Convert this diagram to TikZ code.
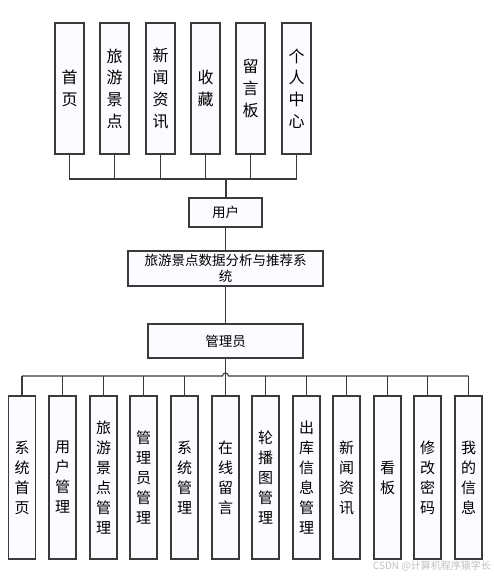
\documentclass[tikz,border=0pt]{standalone}
\usepackage{fontspec}
\newfontfamily\cjk{Noto Sans CJK SC}
\definecolor{lc}{HTML}{3A3A3A}
\definecolor{bf}{HTML}{FAFCFF}
\begin{document}
\begin{tikzpicture}[x=1pt,y=-1pt,
  base/.style={draw=lc,line width=1.1pt,fill=bf,inner sep=0pt,align=center,text=black,font=\cjk},
  topbox/.style={base,minimum width=29pt,minimum height=131pt,font=\cjk\fontsize{16}{21.7}\selectfont},
  botbox/.style={base,minimum width=27pt,minimum height=163pt,font=\cjk\fontsize{15}{20}\selectfont},
  midbox/.style={base,font=\cjk\fontsize{13.5}{16}\selectfont},
  wire/.style={draw=lc,line width=1.1pt}]
\useasboundingbox (0,0) rectangle (494,578);
% top boxes
\node[topbox] (t1) at (69.5,88.5) {首\\页};
\node[topbox] (t2) at (114.5,88.5) {旅\\游\\景\\点};
\node[topbox] (t3) at (160.5,88.5) {新\\闻\\资\\讯};
\node[topbox] (t4) at (205.5,88.5) {收\\藏};
\node[topbox] (t5) at (250.5,88.5) {留\\言\\板};
\node[topbox] (t6) at (296.5,88.5) {个\\人\\中\\心};
% middle
\node[midbox,minimum width=73pt,minimum height=29pt] (user) at (225.5,212.5) {用户};
\node[midbox,minimum width=195pt,minimum height=35pt] (sys) at (225.5,268.5) {旅游景点数据分析与推荐系\\统};
\node[midbox,minimum width=155pt,minimum height=34pt] (admin) at (225.5,341) {管理员};
% bottom boxes
\node[botbox] (b1) at (22,477.5) {系\\统\\首\\页};
\node[botbox] (b2) at (62.5,477.5) {用\\户\\管\\理};
\node[botbox] (b3) at (103.5,477.5) {旅\\游\\景\\点\\管\\理};
\node[botbox] (b4) at (143.5,477.5) {管\\理\\员\\管\\理};
\node[botbox] (b5) at (184.5,477.5) {系\\统\\管\\理};
\node[botbox] (b6) at (225.5,477.5) {在\\线\\留\\言};
\node[botbox] (b7) at (265.5,477.5) {轮\\播\\图\\管\\理};
\node[botbox] (b8) at (306.5,477.5) {出\\库\\信\\息\\管\\理};
\node[botbox] (b9) at (346.5,477.5) {新\\闻\\资\\讯};
\node[botbox] (b10) at (387.5,477.5) {看\\板};
\node[botbox] (b11) at (427.5,477.5) {修\\改\\密\\码};
\node[botbox] (b12) at (468.5,477.5) {我\\的\\信\\息};
% top wiring
\coordinate (ubus) at (226,179);
\foreach \i in {1,...,6} {\draw[wire] (t\i.south) |- (ubus);}
\draw[wire] (ubus) -- (ubus |- user.north);
\draw[wire] (user) -- (sys);
\draw[wire] (sys) -- (admin);
% bottom wiring
\coordinate (lbusL) at (22,376);
\coordinate (lbusR) at (468.5,376);
\coordinate (hopL) at (222.5,376);
\coordinate (hopR) at (228.5,376);
\draw[wire] (lbusL) -- (hopL) arc[start angle=180,end angle=0,radius=3pt] -- (lbusR);
\draw[wire] (admin.south) -- (b6.north);
\foreach \i in {1,2,3,4,5,7,8,9,10,11,12} {\draw[wire] (b\i.north) -- (b\i.north |- lbusL);}
% watermark
\node[text=black!25,font=\cjk\fontsize{10}{12}\selectfont,anchor=east,inner sep=0pt] (wm) at (491,566) {CSDN @计算机程序猿学长};
\end{tikzpicture}
\end{document}
